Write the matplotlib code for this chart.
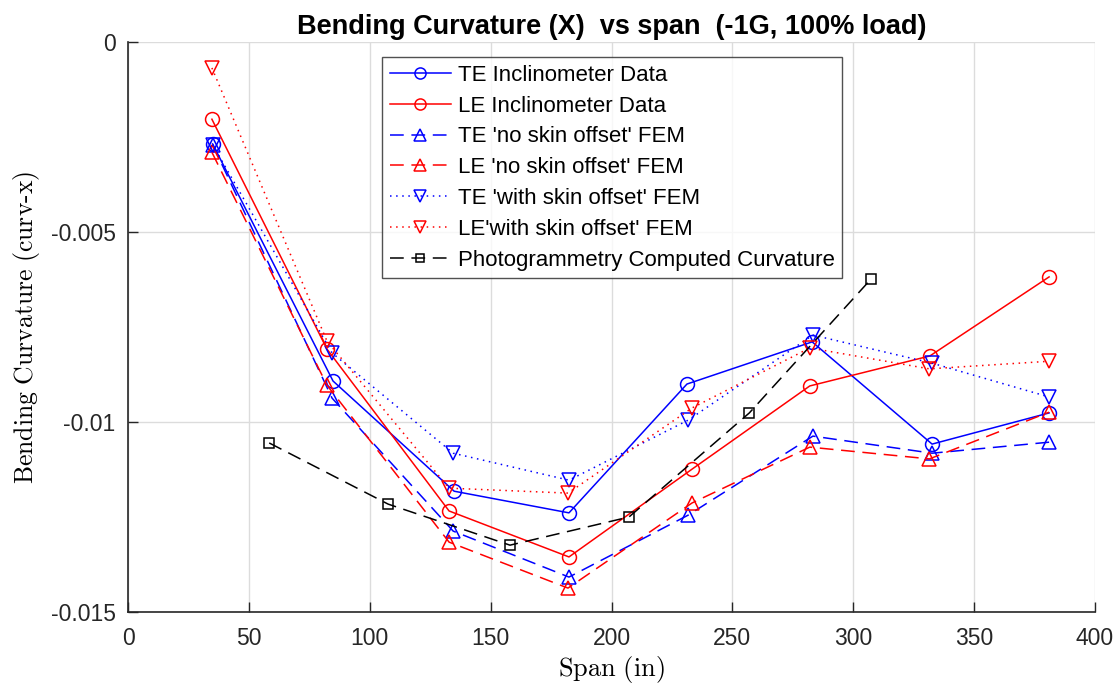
import numpy as np
import matplotlib
matplotlib.use("Agg")
import matplotlib.pyplot as plt

# data
span_te = [35, 84.8, 134.9, 182.4, 231.2, 283, 332.6, 381]
te_incl = [-0.00268, -0.00892, -0.01182, -0.01239, -0.0090, -0.00789, -0.01058, -0.00976]

span_le = [34.7, 82.3, 132.8, 182.4, 233.3, 282, 331.7, 381]
le_incl = [-0.00203, -0.00808, -0.01234, -0.01355, -0.01124, -0.00905, -0.00826, -0.00618]

span_te_fem = [35, 84.4, 134.5, 182.4, 231.7, 283.3, 332.6, 381]
te_noskin = [-0.0027, -0.00937, -0.01287, -0.01408, -0.01245, -0.01037, -0.01082, -0.01053]
te_skin = [-0.0027, -0.00818, -0.01082, -0.01153, -0.00995, -0.00771, -0.00845, -0.00934]

span_le_fem = [34.7, 82.3, 132.8, 182, 233.3, 282, 331.5, 381]
le_noskin = [-0.0029, -0.00903, -0.01316, -0.01437, -0.01213, -0.01066, -0.01097, -0.00974]
le_skin = [-0.00068, -0.00787, -0.01174, -0.01187, -0.00963, -0.00805, -0.0086, -0.0084]

span_photo = [58.4, 107.6, 158, 207.2, 257, 307.3]
photo = [-0.01055, -0.01216, -0.01324, -0.0125, -0.00976, -0.00624]

plt.rcParams['font.family'] = ['Liberation Sans', 'DejaVu Sans']
plt.rcParams['mathtext.fontset'] = 'cm'

fig = plt.figure(figsize=(11.2, 6.9), dpi=100)
ax = fig.add_axes([0.1143, 0.113, 0.8634, 0.826])

ms = 10
mew = 1.1
lw = 1.1
ax.plot(span_te, te_incl, '-', color='#0000ff', marker='o', ms=ms, mfc='none', mew=mew, lw=lw,
        label='TE Inclinometer Data')
ax.plot(span_le, le_incl, '-', color='#ff0000', marker='o', ms=ms, mfc='none', mew=mew, lw=lw,
        label='LE Inclinometer Data')
ax.plot(span_te_fem, te_noskin, color='#0000ff', ls=(0, (9, 5)), marker='^', ms=ms, mfc='none', mew=mew, lw=lw,
        label="TE 'no skin offset' FEM")
ax.plot(span_le_fem, le_noskin, color='#ff0000', ls=(0, (9, 5)), marker='^', ms=ms, mfc='none', mew=mew, lw=lw,
        label="LE 'no skin offset' FEM")
ax.plot(span_te_fem, te_skin, color='#0000ff', ls=(0, (1, 3)), marker='v', ms=ms, mfc='none', mew=mew, lw=lw,
        label="TE 'with skin offset' FEM")
ax.plot(span_le_fem, le_skin, color='#ff0000', ls=(0, (1, 3)), marker='v', ms=ms, mfc='none', mew=mew, lw=lw,
        label="LE'with skin offset' FEM")
ax.plot(span_photo, photo, color='black', ls=(0, (9, 5)), marker='s', ms=7, mfc='none', mew=mew, lw=lw,
        label='Photogrammetry Computed Curvature')

ax.set_xlim(0, 400)
ax.set_ylim(-0.015, 0)
ax.set_xticks(np.arange(0, 401, 50))
ax.set_yticks([-0.015, -0.01, -0.005, 0])
ax.set_yticklabels(['-0.015', '-0.01', '-0.005', '0'])
ax.grid(True, color='#dcdcdc', lw=1)
ax.set_axisbelow(True)
ax.spines['top'].set_visible(False)
ax.spines['right'].set_visible(False)
for s in ['left', 'bottom']:
    ax.spines[s].set_color('#262626')
    ax.spines[s].set_linewidth(1.2)
ax.tick_params(direction='in', length=7, width=1, colors='#262626', labelsize=16.5)
ax.tick_params(axis='x', pad=11)
ax.tick_params(axis='y', pad=9)

ax.set_title('Bending Curvature (X)  vs span  (-1G, 100% load)', fontsize=19.5, fontweight='bold', pad=6)
ax.set_xlabel(r'$\mathrm{Span\ (in)}$', fontsize=19, labelpad=3)
ax.set_ylabel(r'$\mathrm{Bending\ Curvature\ (curv}\text{-}\mathrm{x)}$', fontsize=18.5, labelpad=6)

leg = ax.legend(loc='upper left', bbox_to_anchor=(0.2627, 0.9737), borderaxespad=0, fontsize=16,
                frameon=True, fancybox=False, edgecolor='#262626', handlelength=2.75, borderpad=0.35,
                labelspacing=0.44, handletextpad=0.3, markerscale=0.8)
leg.get_frame().set_linewidth(1)

fig.savefig('out.png')
